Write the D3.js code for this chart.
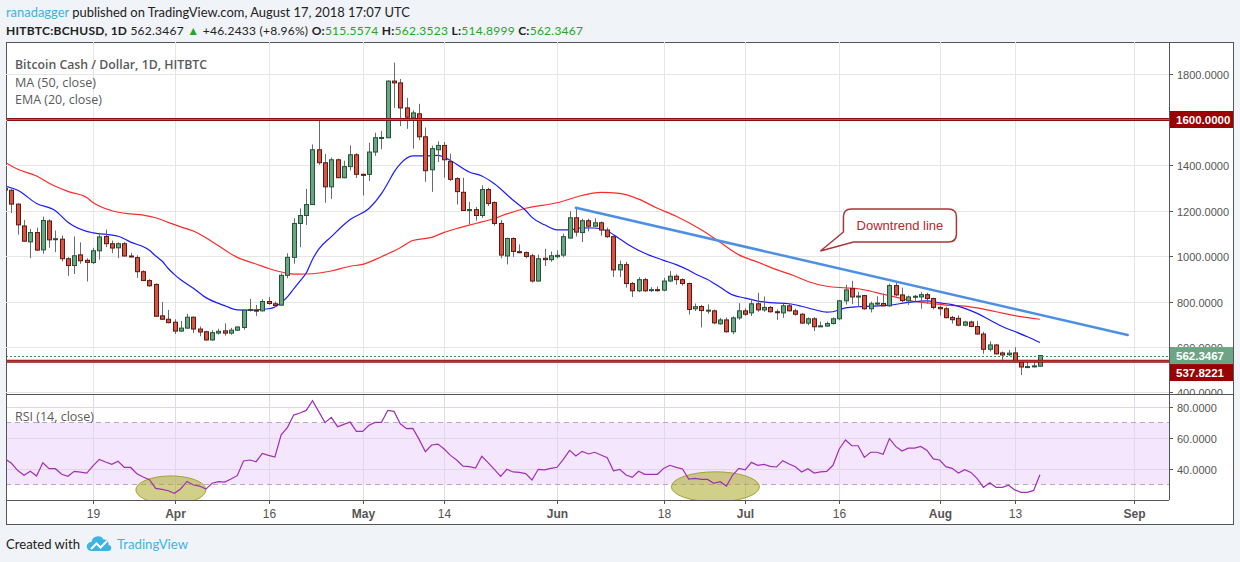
<!DOCTYPE html>
<html>
<head>
<meta charset="utf-8">
<script src="https://cdn.jsdelivr.net/npm/d3@7"></script>
<style>
  html, body { margin: 0; padding: 0; background: #f0f3f7; }
  svg { display: block; }
</style>
</head>
<body>
<div id="chart"></div>
<script>
// daily candles, 2018-03-05 .. 2018-08-17
const opens = [
  1296,1289,1228,1132,1062,1103,1027,1154,1073,1074,988,958,1005,981,971,1023,1086,1054,1036,1054,1000,993,931,892,875,737,722,
  709,670,683,731,679,667,631,661,671,661,674,686,762,762,759,800,790,784,915,994,1143,1178,1226,1467,1410,1304,1423,1344,1393,1445,
  1359,1359,1457,1518,1520,1769,1761,1651,1607,1625,1524,1379,1467,1486,1415,1340,1280,1202,1204,1178,1292,1235,1143,1000,1077,1019,1015,1001,890,990,984,
  997,1004,1079,1168,1103,1155,1131,1146,1114,1085,939,962,879,847,896,848,852,850,890,911,896,879,768,778,760,759,702,719,667,728,
  759,750,790,763,774,755,750,781,759,744,705,724,692,692,703,724,803,856,822,826,768,790,791,781,870,829,803,822,820,830,813,
  774,768,730,726,696,710,690,657,590,609,574,566,574,535,511,513,515.5574
];
const highs = [
  1305,1295,1232,1158,1119,1125,1173,1161,1112,1090,995,1086,1060,990,1036,1102,1116,1068,1060,1061,1014,1003,937,898,880,798,763,
  722,715,746,734,690,671,674,680,704,684,690,763,812,785,810,819,800,924,1012,1166,1209,1295,1490,1597,1448,1433,1428,1419,1486,1452,
  1362,1498,1542,1550,1772,1850,1778,1695,1640,1669,1565,1485,1504,1501,1450,1346,1344,1238,1216,1311,1300,1240,1158,1080,1082,1051,1020,1010,1006,1032,1020,
  1025,1098,1197,1212,1164,1164,1166,1152,1125,1091,980,974,886,907,904,863,866,904,934,920,902,883,791,785,787,765,728,730,735,793,
  770,812,838,822,780,765,790,792,768,749,730,731,712,712,730,807,873,891,843,829,800,823,835,878,881,861,826,829,841,838,817,
  782,777,737,739,715,716,715,667,625,612,580,587,599,542,544,542,562.3523
];
const lows = [
  1280,1189,1094,1062,991,1022,1010,1036,1017,977,913,921,966,888,965,984,1039,1013,991,998,995,904,890,865,733,718,704,
  657,666,680,661,647,628,628,655,650,654,670,676,756,737,756,786,777,781,902,966,1039,1136,1224,1401,1234,1251,1343,1342,1377,1343,
  1266,1330,1440,1469,1518,1651,1571,1559,1472,1509,1326,1282,1413,1344,1330,1226,1198,1139,1155,1168,1220,1133,990,963,996,1012,990,883,888,956,975,
  990,994,1076,1086,1061,1108,1127,1090,1080,908,907,861,820,842,842,842,844,845,885,874,870,743,758,686,746,700,698,663,656,720,
  737,736,755,755,751,719,728,756,738,702,696,670,688,688,699,718,786,788,780,764,752,779,779,777,823,797,785,800,768,791,765,
  738,726,703,691,691,687,654,570,581,567,544,560,533,477,507,510,514.8999
];
const closes = [
  1290,1228,1137,1065,1103,1026,1156,1071,1076,988,958,1001,979,972,1023,1084,1054,1035,1054,1000,998,931,892,869,735,722,707,
  670,683,731,679,666,631,663,669,661,674,688,762,765,758,800,791,782,915,994,1143,1178,1226,1467,1410,1304,1423,1344,1393,1445,1359,
  1355,1457,1520,1521,1769,1761,1651,1610,1629,1524,1375,1472,1486,1423,1337,1283,1200,1204,1178,1292,1231,1143,1004,1077,1020,1015,998,890,988,984,1001,
  1003,1085,1168,1105,1155,1131,1146,1114,1085,939,962,879,847,896,847,852,848,890,911,896,879,765,777,760,762,706,719,667,728,759,
  744,790,763,774,755,751,781,759,744,705,724,689,693,703,724,803,851,820,824,768,790,793,781,870,829,804,820,823,830,813,774,
  768,729,720,696,710,690,657,590,609,570,565,573,535,512,514,517,562.3467
];

// RSI (14, close), read per day
const rsiValues = [
  46.5,43.7,39,36,38.5,35.5,44,40.2,40.2,36.6,35.3,38.5,38,37.4,42,46.2,44.5,43,45,41,41,37,34.8,33.1,27.5,26.9,26,
  24.3,27.3,32,29.7,29,27,30.8,31.8,31.6,33.5,35.7,45.2,45.8,44.7,50.1,48.8,47.7,62,66.7,74.8,76.1,77.8,84.1,77,69.9,73.3,67.3,68.8,70.3,64.3,
  64.3,68.2,70.1,70.1,77.8,77.2,69.2,66,66.2,59.1,51.2,55.5,56.1,52.9,48.8,45.8,41.9,41.5,40.6,48.2,44.1,39.8,35.3,39.8,38.1,37.8,37,32.9,39.8,39.4,40.4,
  41.1,46.2,52,48.4,51.4,49.7,50.8,49,47.3,38.9,39.8,36.1,34.6,38.5,36.6,36.6,36.6,40.4,42.4,41.1,40,33.5,34,33.3,33.3,30.8,31.8,29,36.1,40.4,
  39.4,44.3,42.4,43,41.7,41.3,45.4,43.2,41.5,38.1,40.2,37.4,38.1,38.5,42.4,52.9,58.7,55,55,47.5,50.8,50.8,49.5,59.6,54.6,51.6,53.5,53.5,54.6,52,46.5,
  45.8,41.5,40.4,37.4,39.6,37.8,33.8,28.2,31.2,28.2,28.2,29.5,26.5,24.9,24.9,26.2,36.3
];

// moving averages
const ma50 = [
  ["2018-03-05",1412],["2018-03-07",1381],["2018-03-10",1352],["2018-03-12",1320],["2018-03-15",1284],["2018-03-18",1257],
  ["2018-03-19",1235],["2018-03-22",1199],["2018-03-25",1185],["2018-03-27",1180],["2018-03-29",1168],["2018-03-31",1148],
  ["2018-04-02",1128],["2018-04-04",1110],["2018-04-06",1080],["2018-04-08",1045],["2018-04-11",994],["2018-04-14",965],
  ["2018-04-16",945],["2018-04-19",924],["2018-04-21",920],["2018-04-23",922],["2018-04-26",934],["2018-04-29",955],
  ["2018-05-01",963],["2018-05-04",997],["2018-05-07",1036],["2018-05-09",1068],["2018-05-12",1082],["2018-05-14",1104],
  ["2018-05-16",1121],["2018-05-19",1143],["2018-05-22",1165],["2018-05-24",1185],["2018-05-27",1210],["2018-06-01",1234],
  ["2018-06-05",1266],["2018-06-08",1280],["2018-06-11",1275],["2018-06-14",1250],["2018-06-17",1210],["2018-06-20",1175],
  ["2018-06-24",1115],["2018-06-27",1060],["2018-06-30",1005],["2018-07-03",973],["2018-07-06",940],["2018-07-09",911],
  ["2018-07-11",888],["2018-07-14",867],["2018-07-17",860],["2018-07-19",856],["2018-07-21",845],["2018-07-23",832],
  ["2018-07-26",813],["2018-07-28",800],["2018-07-31",791],["2018-08-02",784],["2018-08-05",780],["2018-08-07",772],
  ["2018-08-10",755],["2018-08-13",738],["2018-08-17",722]
];
const ema20 = [
  ["2018-03-05",1307],["2018-03-07",1289],["2018-03-10",1231],["2018-03-13",1199],["2018-03-15",1148],["2018-03-18",1108],
  ["2018-03-19",1102],["2018-03-23",1087],["2018-03-25",1061],["2018-03-28",1025],["2018-03-29",1000],["2018-03-30",978],
  ["2018-03-31",945],["2018-04-01",918],["2018-04-02",896],["2018-04-04",858],["2018-04-06",817],["2018-04-09",782],
  ["2018-04-11",763],["2018-04-13",762],["2018-04-16",768],["2018-04-17",776],["2018-04-18",795],["2018-04-19",820],
  ["2018-04-20",855],["2018-04-21",890],["2018-04-22",925],["2018-04-23",985],["2018-04-24",1030],["2018-04-26",1085],
  ["2018-04-29",1160],["2018-05-02",1209],["2018-05-04",1274],["2018-05-05",1320],["2018-05-06",1369],["2018-05-07",1405],
  ["2018-05-09",1440],["2018-05-11",1440],["2018-05-13",1442],["2018-05-15",1420],["2018-05-18",1369],["2018-05-20",1352],
  ["2018-05-22",1318],["2018-05-25",1245],["2018-05-27",1200],["2018-05-28",1170],["2018-05-30",1137],["2018-06-01",1115],
  ["2018-06-03",1115],["2018-06-05",1124],["2018-06-07",1123],["2018-06-09",1110],["2018-06-11",1075],["2018-06-13",1040],
  ["2018-06-15",1012],["2018-06-18",981],["2018-06-20",962],["2018-06-22",937],["2018-06-23",922],["2018-06-25",897],
  ["2018-06-27",863],["2018-06-29",829],["2018-07-01",815],["2018-07-03",802],["2018-07-05",795],["2018-07-08",790],
  ["2018-07-10",779],["2018-07-12",765],["2018-07-14",753],["2018-07-15",755],["2018-07-17",772],["2018-07-19",777],
  ["2018-07-21",779],["2018-07-24",784],["2018-07-27",796],["2018-07-30",803],["2018-08-01",794],["2018-08-03",786],
  ["2018-08-05",770],["2018-08-07",748],["2018-08-09",719],["2018-08-11",690],["2018-08-13",668],["2018-08-15",645],
  ["2018-08-17",620]
];

const trendLine = [["2018-06-04",1212],["2018-08-31",653]];
const levels = [1600, 537.8221];
const lastPrice = 562.3467;

const priceTicks = [400, 600, 800, 1000, 1200, 1400, 1600, 1800];
const rsiTicks = [40, 60, 80];
const xTickDates = ["2018-03-19","2018-04-01","2018-04-16","2018-05-01","2018-05-14","2018-06-01",
                    "2018-06-18","2018-07-01","2018-07-16","2018-08-01","2018-08-13","2018-09-01"];
const xTickLabels = ["19","Apr","16","May","14","Jun","18","Jul","16","Aug","13","Sep"];

// ------------------------------------------------------------------
const W = 1240, H = 562;
const L = 6, R = 1169, RR = 1234;
const pTop = 42, pBot = 394, rBot = 500, frameBot = 525;
const parse = d3.utcParse("%Y-%m-%d");
const font = "'Liberation Sans', Arial, sans-serif";

const days = d3.utcDay.range(new Date(Date.UTC(2018, 2, 5)), new Date(Date.UTC(2018, 7, 18)));
const candles = days.map((d, i) => ({ date: d, o: opens[i], h: highs[i], l: lows[i], c: closes[i], rsi: rsiValues[i] }));

const x = d3.scaleUtc()
  .domain([new Date(Date.UTC(2018, 2, 5, 3)), new Date(Date.UTC(2018, 8, 6, 14))])
  .range([L, R]);
const y = d3.scaleLinear().domain([393.4, 1940.7]).range([pBot, pTop]);
const yR = d3.scaleLinear().domain([20, 88.4]).range([rBot, pBot]);

const svg = d3.select("#chart").append("svg").attr("width", W).attr("height", H);

svg.append("rect").attr("width", W).attr("height", H).attr("fill", "#f0f3f7");

// header: one text element per line, coloured parts as tspans
const green = "#22a822";
const head = svg.append("g").attr("font-family", "Lato, " + font);
const line1 = head.append("text").attr("x", 6).attr("y", 17).attr("fill", "#222").attr("font-size", 13)
  .attr("textLength", 404).attr("lengthAdjust", "spacingAndGlyphs");
line1.append("tspan").attr("fill", "#3bb3e4").text("ranadagger");
line1.append("tspan").text(" published on TradingView.com, August 17, 2018 17:07 UTC");

// smaller natural size, widened only by letter spacing, so the parts never overlap
const line2 = head.append("text").attr("x", 6).attr("y", 35).attr("fill", "#222").attr("font-size", 12)
  .attr("textLength", 577).attr("lengthAdjust", "spacing");
const parts = [
  ["HITBTC:BCHUSD, 1D ", "#222", "bold"],
  ["562.3467 ", "#222", "normal"],
  ["\u25B2 ", green, "normal"],
  ["+46.2433 (+8.96%) ", "#222", "normal"],
  ["O:", "#222", "bold"], ["515.5574 ", green, "normal"],
  ["H:", "#222", "bold"], ["562.3523 ", green, "normal"],
  ["L:", "#222", "bold"], ["514.8999 ", green, "normal"],
  ["C:", "#222", "bold"], ["562.3467", green, "normal"]
];
parts.forEach(p => line2.append("tspan").attr("fill", p[1]).attr("font-weight", p[2]).text(p[0]));

// frame
svg.append("rect").attr("x", L + 0.5).attr("y", pTop + 0.5)
  .attr("width", RR - L - 1).attr("height", frameBot - pTop - 1)
  .attr("fill", "#fff").attr("stroke", "#555").attr("stroke-width", 1);

const defs = svg.append("defs");
defs.append("clipPath").attr("id", "clipP").append("rect")
  .attr("x", L + 1).attr("y", pTop + 1).attr("width", R - L - 1).attr("height", pBot - pTop - 1);
defs.append("clipPath").attr("id", "clipR").append("rect")
  .attr("x", L + 1).attr("y", pBot + 1).attr("width", R - L - 1).attr("height", rBot - pBot - 1);
defs.append("clipPath").attr("id", "clipAx").append("rect")
  .attr("x", R).attr("y", pTop + 1).attr("width", RR - R).attr("height", pBot - pTop - 1);

// grid
const grid = svg.append("g").attr("stroke", "#e6e6e6").attr("stroke-width", 1);
xTickDates.forEach(d => {
  const xx = Math.round(x(parse(d))) + 0.5;
  grid.append("line").attr("x1", xx).attr("x2", xx).attr("y1", pTop).attr("y2", rBot);
});
priceTicks.forEach(p => {
  const yy = Math.round(y(p)) + 0.5;
  if (yy > pTop && yy < pBot) grid.append("line").attr("x1", L).attr("x2", R).attr("y1", yy).attr("y2", yy);
});

// RSI band
const rsiG = svg.append("g").attr("clip-path", "url(#clipR)");
rsiG.append("rect").attr("x", L).attr("width", R - L)
  .attr("y", yR(70)).attr("height", yR(30) - yR(70)).attr("fill", "#f3e6fd");
rsiTicks.forEach(v => {
  const yy = Math.round(yR(v)) + 0.5;
  rsiG.append("line").attr("x1", L).attr("x2", R).attr("y1", yy).attr("y2", yy)
    .attr("stroke", "#e0d6e6").attr("stroke-width", 1);
});
xTickDates.forEach(d => {
  const xx = Math.round(x(parse(d))) + 0.5;
  rsiG.append("line").attr("x1", xx).attr("x2", xx).attr("y1", pBot).attr("y2", rBot)
    .attr("stroke", "#e2d8ea");
});
[70, 30].forEach(v => {
  rsiG.append("line").attr("x1", L).attr("x2", R).attr("y1", yR(v)).attr("y2", yR(v))
    .attr("stroke", "#bba9c4").attr("stroke-dasharray", "5,4");
});

// highlighted RSI ellipses
const ellipses = [
  { date: "2018-03-31", hour: 10, v: 26.5, rx: 35, ry: 14 },
  { date: "2018-06-26", hour: 6, v: 28.5, rx: 44, ry: 15 }
];
ellipses.forEach(e => {
  const d = parse(e.date); d.setUTCHours(e.hour);
  rsiG.append("ellipse").attr("cx", x(d)).attr("cy", yR(e.v)).attr("rx", e.rx).attr("ry", e.ry)
    .attr("fill", "rgba(170,170,40,0.55)").attr("stroke", "#a5a52c").attr("stroke-width", 1);
});

rsiG.append("path").datum(candles)
  .attr("d", d3.line().x(d => x(d.date)).y(d => yR(d.rsi)))
  .attr("fill", "none").attr("stroke", "#a12fb6").attr("stroke-width", 1.2);

// price pane
const pg = svg.append("g").attr("clip-path", "url(#clipP)");

const lineGen = d3.line().x(d => x(parse(d[0]))).y(d => y(d[1])).curve(d3.curveMonotoneX);
pg.append("path").datum(ma50).attr("d", lineGen)
  .attr("fill", "none").attr("stroke", "#ff2a2a").attr("stroke-width", 1.2);
pg.append("path").datum(ema20).attr("d", lineGen)
  .attr("fill", "none").attr("stroke", "#1a1aff").attr("stroke-width", 1.2);

// candles
const up = d => d.c >= d.o;
const cg = pg.append("g");
cg.selectAll("line.wick").data(candles).enter().append("line")
  .attr("x1", d => Math.round(x(d.date)) + 0.5).attr("x2", d => Math.round(x(d.date)) + 0.5)
  .attr("y1", d => y(d.h)).attr("y2", d => y(d.l))
  .attr("stroke", "#6b6b6d").attr("stroke-width", 1);
cg.selectAll("rect.body").data(candles).enter().append("rect")
  .attr("x", d => Math.round(x(d.date)) - 1.5)
  .attr("width", 4)
  .attr("y", d => y(Math.max(d.o, d.c)))
  .attr("height", d => Math.max(1, Math.abs(y(d.o) - y(d.c))))
  .attr("fill", d => up(d) ? "#6ba583" : "#d75442")
  .attr("stroke", d => up(d) ? "#225437" : "#5b1a13")
  .attr("stroke-width", 1);

// horizontal levels
levels.forEach(p => {
  pg.append("line").attr("x1", L).attr("x2", R).attr("y1", y(p)).attr("y2", y(p))
    .attr("stroke", "#8e0c0c").attr("stroke-width", 3);
  pg.append("line").attr("x1", L).attr("x2", R).attr("y1", y(p)).attr("y2", y(p))
    .attr("stroke", "#c85050").attr("stroke-width", 1);
});
pg.append("line").attr("x1", L).attr("x2", R).attr("y1", Math.round(y(lastPrice)) + 0.5).attr("y2", Math.round(y(lastPrice)) + 0.5)
  .attr("stroke", "#3f8a5c").attr("stroke-width", 1).attr("stroke-dasharray", "2,2");

// downtrend line
pg.append("line")
  .attr("x1", x(parse(trendLine[0][0]))).attr("y1", y(trendLine[0][1]))
  .attr("x2", x(parse(trendLine[1][0]))).attr("y2", y(trendLine[1][1]))
  .attr("stroke", "#4d8fe4").attr("stroke-width", 2.5).attr("stroke-linecap", "round");

// callout
const tipX = x(parse("2018-07-13")), tipY = y(1022);
const bx = tipX + 23, by = tipY - 42, bw = 113, bh = 33, r = 8;
const callout = svg.append("g");
callout.append("path")
  .attr("d", `M${bx + r},${by} H${bx + bw - r} Q${bx + bw},${by} ${bx + bw},${by + r} V${by + bh - r} ` +
             `Q${bx + bw},${by + bh} ${bx + bw - r},${by + bh} H${bx + 10} L${tipX},${tipY} L${bx},${by + bh - 10} ` +
             `V${by + r} Q${bx},${by} ${bx + r},${by} Z`)
  .attr("fill", "rgba(255,255,255,0.92)").attr("stroke", "#a8363a").attr("stroke-width", 1.5);
callout.append("text").attr("x", bx + bw / 2).attr("y", by + 21).attr("text-anchor", "middle")
  .attr("font-family", font).attr("font-size", 13).attr("fill", "#b02a2e").text("Downtrend line");

// legends
const leg = svg.append("g").attr("font-family", "'Open Sans', " + font).attr("font-size", 12.5).attr("fill", "#5a5a5a");
leg.append("text").attr("x", 15).attr("y", 69).attr("font-weight", 600)
  .attr("textLength", 192).attr("lengthAdjust", "spacingAndGlyphs").text("Bitcoin Cash / Dollar, 1D, HITBTC");
leg.append("text").attr("x", 15).attr("y", 87).attr("textLength", 81).attr("lengthAdjust", "spacingAndGlyphs").text("MA (50, close)");
leg.append("text").attr("x", 15).attr("y", 104).attr("textLength", 87).attr("lengthAdjust", "spacingAndGlyphs").text("EMA (20, close)");
leg.append("text").attr("x", 15).attr("y", 421).attr("textLength", 79).attr("lengthAdjust", "spacingAndGlyphs").text("RSI (14, close)");

// axes lines
const axisC = "#555";
svg.append("line").attr("x1", R + 0.5).attr("x2", R + 0.5).attr("y1", pTop).attr("y2", rBot).attr("stroke", axisC);
svg.append("line").attr("x1", L).attr("x2", RR).attr("y1", pBot + 0.5).attr("y2", pBot + 0.5).attr("stroke", axisC);
svg.append("line").attr("x1", L).attr("x2", R).attr("y1", rBot + 0.5).attr("y2", rBot + 0.5).attr("stroke", axisC);

// price badges; a badge that would collide with the one above it is pushed down
const badgeH = 17;
const lastY = y(lastPrice);
const badges = [
  { p: levels[0], fill: "#990000", cy: y(levels[0]) },
  { p: lastPrice, fill: "#6ba583", cy: lastY },
  { p: levels[1], fill: "#990000", cy: Math.max(y(levels[1]), lastY + badgeH) }
];

// price axis (a label under a badge only shows above it, as on the original)
const pax = svg.append("g").attr("clip-path", "url(#clipAx)")
  .attr("font-family", font).attr("font-size", 11).attr("fill", "#555");
priceTicks.forEach(p => {
  const yy = Math.round(y(p)) + 0.5;
  pax.append("line").attr("x1", R).attr("x2", R + 4).attr("y1", yy).attr("y2", yy).attr("stroke", axisC);
  const hit = badges.filter(b => Math.abs(b.cy - yy) < badgeH / 2);
  if (hit.length) {
    const top = Math.min(...hit.map(b => b.cy - badgeH / 2));
    const cid = "clipLab" + p;
    defs.append("clipPath").attr("id", cid).append("rect")
      .attr("x", R).attr("y", yy - 10).attr("width", RR - R).attr("height", Math.max(0, top - (yy - 10)));
    pax.append("g").attr("clip-path", `url(#${cid})`)
      .append("text").attr("x", 1177).attr("y", yy + 4).text(p.toFixed(4));
  } else {
    pax.append("text").attr("x", 1177).attr("y", yy + 4).text(p.toFixed(4));
  }
});
const rax = svg.append("g").attr("font-family", font).attr("font-size", 11).attr("fill", "#555");
rsiTicks.forEach(v => {
  const yy = Math.round(yR(v)) + 0.5;
  rax.append("line").attr("x1", R).attr("x2", R + 4).attr("y1", yy).attr("y2", yy).attr("stroke", axisC);
  rax.append("text").attr("x", 1177).attr("y", yy + 4).text(v.toFixed(4));
});

badges.forEach(b => {
  svg.append("rect").attr("x", R + 1).attr("y", b.cy - badgeH / 2).attr("width", RR - R - 2).attr("height", badgeH).attr("fill", b.fill);
  svg.append("text").attr("x", 1176).attr("y", b.cy + 4).attr("font-family", font).attr("font-size", 11.5)
    .attr("font-weight", "bold").attr("fill", "#fff").text(b.p.toFixed(4));
});

// time axis
const tax = svg.append("g").attr("font-family", font).attr("font-size", 12).attr("fill", "#555");
xTickDates.forEach((d, i) => {
  const xx = Math.round(x(parse(d))) + 0.5;
  tax.append("line").attr("x1", xx).attr("x2", xx).attr("y1", rBot).attr("y2", rBot + 4).attr("stroke", axisC);
  const isMonth = /[A-Za-z]/.test(xTickLabels[i]);
  tax.append("text").attr("x", xx).attr("y", 518).attr("text-anchor", "middle")
    .attr("font-weight", isMonth ? "bold" : "normal").text(xTickLabels[i]);
});

// footer
const foot = svg.append("g").attr("font-family", "Lato, " + font).attr("font-size", 14);
foot.append("text").attr("x", 6).attr("y", 549).attr("fill", "#222")
  .attr("textLength", 74).attr("lengthAdjust", "spacingAndGlyphs").text("Created with");
foot.append("path")
  .attr("d", "M91,551 a4.5,4.5 0 0 1 0.5,-9 a6.5,6.5 0 0 1 12,-2.5 a4.5,4.5 0 0 1 5,5.5 a3,3 0 0 1 -0.5,6 Z")
  .attr("fill", "#3bb3e4");
foot.append("path").attr("d", "M91,549 L96.5,543.5 L100.5,547.5 L107,541")
  .attr("fill", "none").attr("stroke", "#fff").attr("stroke-width", 2);
foot.append("text").attr("x", 117).attr("y", 549).attr("fill", "#3bb3e4")
  .attr("textLength", 71).attr("lengthAdjust", "spacingAndGlyphs").text("TradingView");
</script>
</body>
</html>
